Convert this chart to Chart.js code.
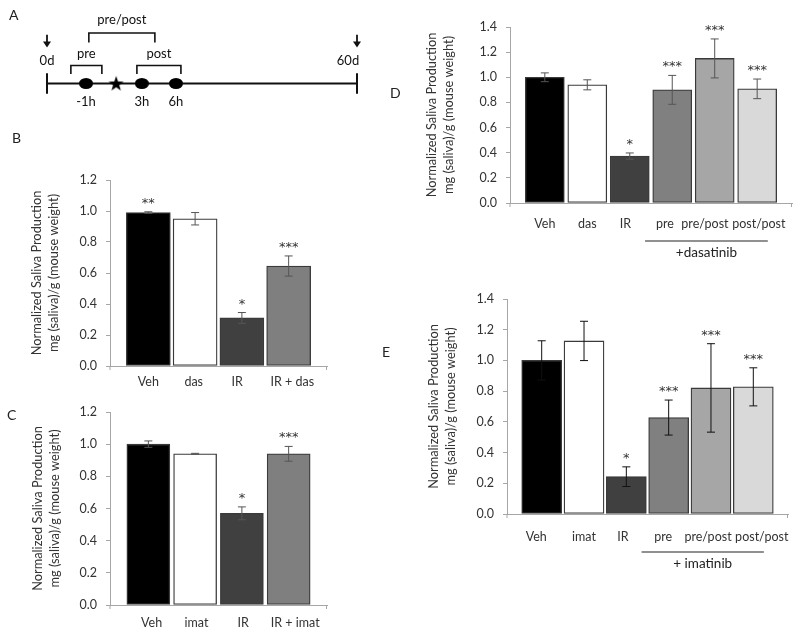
<!DOCTYPE html>
<html>
<head>
<meta charset="utf-8">
<script src="https://cdn.jsdelivr.net/npm/chart.js@4.4.1/dist/chart.umd.min.js"></script>
<style>
  body { margin: 0; background: #fff; }
  #fig { position: relative; width: 800px; height: 633px; font-family: Lato, sans-serif; }
  #fig canvas { position: absolute; }
  .tag { position: absolute; font-size: 14px; line-height: 1; color: #222; }
</style>
</head>
<body>
<div id="fig">
  <canvas id="chartA" width="400" height="125" style="left:0;top:0"></canvas>
  <canvas id="chartB" width="340" height="275" style="left:0;top:125px"></canvas>
  <canvas id="chartC" width="340" height="233" style="left:0;top:400px"></canvas>
  <canvas id="chartD" width="400" height="270" style="left:400px;top:0"></canvas>
  <canvas id="chartE" width="400" height="353" style="left:400px;top:280px"></canvas>
  <div class="tag" style="left:9px;top:8px">A</div>
  <div class="tag" style="left:12px;top:131px">B</div>
  <div class="tag" style="left:7px;top:408px">C</div>
  <div class="tag" style="left:390px;top:86px">D</div>
  <div class="tag" style="left:382px;top:345px">E</div>
</div>
<script>
// ---- panel A: treatment schedule (schematic positions along 0d..60d line, 0..100)
const tlLabels = ['-1h', '3h', '6h'];
const tlPos = [12.6, 30.6, 41.6];
const irPos = [22.3];
const brLabels = ['pre', 'post', 'pre/post'];
const brFrom = [7.7, 29.0, 13.5];
const brTo = [17.7, 43.2, 34.8];
const brHigh = [false, false, true];

// ---- panel B
const catsB = ['Veh', 'das', 'IR', 'IR + das'];
const valsB = [0.99, 0.95, 0.31, 0.645];
const errsB = [0.005, 0.04, 0.035, 0.065];
const sigB = ['**', '', '*', '***'];

// ---- panel C
const catsC = ['Veh', 'imat', 'IR', 'IR + imat'];
const valsC = [1.0, 0.94, 0.57, 0.94];
const errsC = [0.02, 0.003, 0.04, 0.046];
const sigC = ['', '', '*', '***'];

// ---- panel D
const catsD = ['Veh', 'das', 'IR', 'pre', 'pre/post', 'post/post'];
const valsD = [1.0, 0.94, 0.373, 0.90, 1.15, 0.908];
const errsD = [0.035, 0.04, 0.025, 0.115, 0.155, 0.078];
const sigD = ['', '', '*', '***', '***', '***'];

// ---- panel E
const catsE = ['Veh', 'imat', 'IR', 'pre', 'pre/post', 'post/post'];
const valsE = [1.0, 1.127, 0.243, 0.628, 0.821, 0.828];
const errsE = [0.128, 0.128, 0.064, 0.114, 0.288, 0.124];
const sigE = ['', '', '*', '***', '***', '***'];

const yTicks12 = [0, 0.2, 0.4, 0.6, 0.8, 1.0, 1.2];
const yTicks14 = [0, 0.2, 0.4, 0.6, 0.8, 1.0, 1.2, 1.4];
const yTitle = ['Normalized Saliva Production', 'mg (saliva)/g (mouse weight)'];

// styles
const FONT = 'Lato';
const txt = '#333333';
const axisColor = '#a6a6a6';
const fill4 = ['#000000', '#ffffff', '#404040', '#7f7f7f'];
const fill6 = ['#000000', '#ffffff', '#404040', '#808080', '#a6a6a6', '#d9d9d9'];

function extras(p) {
  return {
    id: 'extras',
    afterDatasetsDraw(chart) {
      const { ctx, chartArea, scales: { x, y } } = chart;
      const meta = chart.getDatasetMeta(0);
      ctx.save();
      // small end ticks under the category axis
      ctx.strokeStyle = axisColor;
      ctx.lineWidth = 1;
      ctx.beginPath();
      ctx.moveTo(chartArea.left, chartArea.bottom); ctx.lineTo(chartArea.left, chartArea.bottom + 4);
      ctx.moveTo(chartArea.right - 0.5, chartArea.bottom); ctx.lineTo(chartArea.right - 0.5, chartArea.bottom + 4);
      ctx.stroke();
      meta.data.forEach((bar, i) => {
        const top = y.getPixelForValue(p.vals[i] + p.errs[i]);
        const bot = y.getPixelForValue(p.vals[i] - p.errs[i]);
        ctx.strokeStyle = p.errColor;
        ctx.lineWidth = 1;
        ctx.beginPath();
        ctx.moveTo(bar.x, top); ctx.lineTo(bar.x, bot);
        ctx.moveTo(bar.x - 4, top); ctx.lineTo(bar.x + 4, top);
        ctx.moveTo(bar.x - 4, bot); ctx.lineTo(bar.x + 4, bot);
        ctx.stroke();
        if (p.sig[i]) {
          ctx.fillStyle = '#333';
          ctx.font = '13px "DejaVu Sans"';
          ctx.textAlign = 'center';
          ctx.textBaseline = 'alphabetic';
          ctx.fillText(p.sig[i], bar.x, Math.min(top, bar.y) - 5);
        }
      });
      if (p.group) {
        const x1 = x.getPixelForValue(2.36), x2 = x.getPixelForValue(5.25);
        const gy = chartArea.bottom + 38;
        ctx.strokeStyle = '#222';
        ctx.lineWidth = 1.2;
        ctx.beginPath();
        ctx.moveTo(x1, gy); ctx.lineTo(x2, gy);
        ctx.stroke();
        ctx.fillStyle = '#222';
        ctx.font = '13.5px ' + FONT;
        ctx.textAlign = 'center';
        ctx.textBaseline = 'middle';
        ctx.fillText(p.group, (x1 + x2) / 2, gy + 12);
      }
      ctx.restore();
    }
  };
}

function barChart(id, p) {
  const n = p.cats.length;
  new Chart(document.getElementById(id), {
    type: 'bar',
    data: {
      datasets: [{
        data: p.vals.map((v, i) => ({ x: i, y: v })),
        backgroundColor: p.colors,
        borderColor: '#3a3a3a',
        borderWidth: 1.3,
        borderSkipped: false,
        barThickness: p.bw
      }]
    },
    options: {
      responsive: false,
      animation: false,
      events: [],
      layout: { padding: { left: 0, top: p.top, right: p.right, bottom: 0 } },
      plugins: { legend: { display: false }, tooltip: { enabled: false } },
      scales: {
        x: {
          type: 'linear', offset: false, min: -0.82, max: n - 1 + 0.82,
          // category labels sit under each bar, nudged a little as in the figure
          afterBuildTicks: s => { s.ticks = p.cats.map((c, i) => ({ value: i + p.nudge[i] })); },
          afterFit: s => { s.height = p.xh; s.paddingLeft = 0; s.paddingRight = 0; },
          grid: { display: false, drawTicks: false },
          border: { color: axisColor, width: 1 },
          ticks: {
            autoSkip: false, maxRotation: 0, padding: p.xpad, color: txt,
            font: { family: FONT, size: 12.5 },
            callback: (v, i) => p.cats[i]
          }
        },
        y: {
          min: 0, max: p.yTicks[p.yTicks.length - 1],
          afterBuildTicks: s => { s.ticks = p.yTicks.map(v => ({ value: v })); },
          afterFit: s => { s.width = p.yw; s.paddingTop = 0; s.paddingBottom = 0; },
          grid: { drawOnChartArea: false, tickLength: 4, color: axisColor },
          border: { color: axisColor, width: 1 },
          ticks: {
            padding: 9, color: txt, font: { family: FONT, size: 12.5 },
            callback: v => v.toFixed(1)
          },
          title: {
            display: true, text: yTitle, color: txt,
            padding: { top: p.tpad, bottom: 0 },
            font: { family: FONT, size: 12.8, lineHeight: 1.3 }
          }
        }
      }
    },
    plugins: [extras(p)]
  });
}

barChart('chartB', { cats: catsB, vals: valsB, errs: errsB, sig: sigB, colors: fill4, yTicks: yTicks12,
  nudge: [0, -0.03, -0.1, 0.08], bw: 44,
  errColor: '#555', top: 55, right: 13, xh: 34, yw: 110, xpad: 8, tpad: 29 });
barChart('chartC', { cats: catsC, vals: valsC, errs: errsC, sig: sigC, colors: fill4, yTicks: yTicks12,
  nudge: [0.07, 0.03, 0.03, 0.14], bw: 43,
  errColor: '#555', top: 12, right: 13, xh: 28, yw: 110, xpad: 10, tpad: 30 });
barChart('chartD', { cats: catsD, vals: valsD, errs: errsD, sig: sigD, colors: fill6, yTicks: yTicks14,
  nudge: [0, 0, -0.1, -0.17, -0.23, 0.04], bw: 39,
  errColor: '#555', top: 27, right: 8, xh: 67, yw: 110, xpad: 13, tpad: 24, group: '+dasatinib' });
barChart('chartE', { cats: catsE, vals: valsE, errs: errsE, sig: sigE, colors: fill6, yTicks: yTicks14,
  nudge: [-0.13, 0, -0.08, -0.13, -0.07, 0.2], bw: 40,
  errColor: '#111', top: 19, right: 12, xh: 119, yw: 107, xpad: 15, tpad: 26, group: '+ imatinib' });

// ---- panel A
function makeSprite(w, h, draw) {
  const c = document.createElement('canvas');
  c.width = w; c.height = h;
  draw(c.getContext('2d'), w, h);
  return c;
}
const dotImg = makeSprite(14, 11, (g, w, h) => {
  g.fillStyle = '#000';
  g.beginPath(); g.ellipse(w / 2, h / 2, w / 2, h / 2, 0, 0, Math.PI * 2); g.fill();
});
const starImg = makeSprite(16, 16, (g) => {
  g.fillStyle = '#000';
  g.beginPath();
  for (let k = 0; k < 10; k++) {
    const r = k % 2 ? 3.2 : 8;
    const a = -Math.PI / 2 + k * Math.PI / 5;
    g.lineTo(8 + r * Math.cos(a), 8.6 + r * Math.sin(a));
  }
  g.closePath(); g.fill();
});

const ROW = 87;
const schedule = {
  id: 'schedule',
  afterDraw(chart) {
    const { ctx, scales: { x, y } } = chart;
    ctx.save();
    ctx.strokeStyle = '#111';
    ctx.fillStyle = '#111';
    ctx.lineWidth = 2;
    // end caps and day arrows
    [[0, '0d'], [100, '60d']].forEach(([v, lab]) => {
      const px = x.getPixelForValue(v);
      ctx.beginPath();
      ctx.moveTo(px, y.getPixelForValue(75)); ctx.lineTo(px, y.getPixelForValue(99));
      ctx.stroke();
      ctx.lineWidth = 1.8;
      ctx.beginPath();
      ctx.moveTo(px, y.getPixelForValue(30)); ctx.lineTo(px, y.getPixelForValue(39));
      ctx.stroke();
      ctx.beginPath();
      ctx.moveTo(px - 4, y.getPixelForValue(38)); ctx.lineTo(px + 4, y.getPixelForValue(38));
      ctx.lineTo(px, y.getPixelForValue(45)); ctx.closePath(); ctx.fill();
      ctx.lineWidth = 2;
      ctx.font = '13px ' + FONT;
      ctx.textAlign = 'center';
      ctx.textBaseline = 'middle';
      ctx.fillText(lab, lab === '60d' ? px - 9 : px, y.getPixelForValue(60));
    });
    // time point labels
    ctx.font = '13px ' + FONT;
    tlLabels.forEach((lab, i) => {
      ctx.fillText(lab, x.getPixelForValue(tlPos[i]), y.getPixelForValue(108));
    });
    // brackets
    ctx.lineWidth = 1.6;
    brLabels.forEach((lab, i) => {
      const topRow = brHigh[i] ? 28 : 66, legRow = brHigh[i] ? 39 : 76, labRow = brHigh[i] ? 13 : 52;
      const a = x.getPixelForValue(brFrom[i]), b = x.getPixelForValue(brTo[i]);
      ctx.beginPath();
      ctx.moveTo(a, y.getPixelForValue(legRow));
      ctx.lineTo(a, y.getPixelForValue(topRow));
      ctx.lineTo(b, y.getPixelForValue(topRow));
      ctx.lineTo(b, y.getPixelForValue(legRow));
      ctx.stroke();
      ctx.fillText(lab, (a + b) / 2, y.getPixelForValue(labRow));
    });
    ctx.restore();
  }
};

new Chart(document.getElementById('chartA'), {
  type: 'scatter',
  data: {
    datasets: [
      { data: tlPos.map(v => ({ x: v, y: ROW })), pointStyle: dotImg, pointRadius: 7 },
      { data: irPos.map(v => ({ x: v, y: ROW })), pointStyle: starImg, pointRadius: 8 },
      { data: [{ x: 0, y: ROW }, { x: 100, y: ROW }], showLine: true, borderColor: '#111',
        borderWidth: 2, pointRadius: 0 }
    ]
  },
  options: {
    responsive: false,
    animation: false,
    events: [],
    layout: { padding: { left: 47, right: 43, top: 0, bottom: 0 } },
    plugins: { legend: { display: false }, tooltip: { enabled: false } },
    scales: {
      x: { type: 'linear', min: 0, max: 100, display: false },
      y: { type: 'linear', min: 0, max: 125, reverse: true, display: false }
    }
  },
  plugins: [schedule]
});
</script>
</body>
</html>
